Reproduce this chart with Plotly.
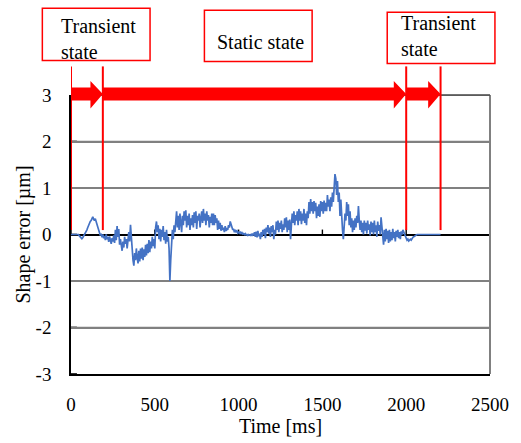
import plotly.graph_objects as go

# ---------------- data ----------------
STEP_MS = 5
SHAPE_ERROR_UM = [
    # 0-95 ms
    0, 0, 0, 0, 0, 0, 0, 0, 0, 0, -0.03, -0.06, -0.09, -0.09, -0.07, -0.04, -0.01, 0.02, 0.05, 0.10,
    # 100-195
    0.15, 0.20, 0.22, 0.28, 0.30, 0.36, 0.38, 0.33, 0.30, 0.34, 0.28, 0.18, 0.15, 0.06, 0.04, -0.02, 0.02, -0.06, 0.00, -0.08,
    # 200-295
    -0.03, -0.12, 0.00, -0.10, -0.05, -0.16, -0.04, -0.12, -0.20, -0.08, -0.15, -0.02, -0.18, 0.10, -0.12, 0.18, -0.05, 0.12, -0.22, -0.10,
    # 300-395
    -0.25, -0.35, -0.15, -0.28, -0.05, -0.20, -0.10, -0.30, -0.12, 0.05, -0.15, 0.21, -0.05, -0.35, -0.55, -0.67, -0.40, -0.55, -0.30, -0.50,
    # 400-495
    -0.62, -0.35, -0.58, -0.30, -0.52, -0.28, -0.55, -0.32, -0.48, -0.22, -0.45, -0.20, -0.40, -0.12, -0.38, -0.15, -0.30, -0.05, -0.25, -0.10,
    # 500-595
    -0.30, 0.15, 0.28, 0.05, 0.20, -0.10, 0.12, -0.15, 0.10, -0.05, 0.18, -0.12, 0.05, -0.20, 0.10, -0.15, -0.05, -0.30, -1.00, -0.55,
    # 600-695
    -0.20, 0.10, -0.10, 0.20, 0.05, 0.35, 0.50, 0.15, 0.40, 0.10, 0.45, 0.25, 0.05, 0.40, 0.20, 0.50, 0.30, 0.52, 0.15, 0.40,
    # 700-795
    0.20, 0.45, 0.10, 0.35, 0.20, 0.42, 0.15, 0.48, 0.25, 0.50, 0.12, 0.40, 0.30, 0.45, 0.15, 0.35, 0.50, 0.25, 0.55, 0.30,
    # 800-895
    0.45, 0.20, 0.50, 0.30, 0.42, 0.15, 0.38, 0.25, 0.45, 0.20, 0.45, 0.20, 0.42, 0.25, 0.35, 0.10, 0.30, 0.12, 0.25, 0.08,
    # 900-995
    0.20, 0.10, 0.15, 0.05, 0.18, 0.08, 0.12, 0.10, 0.20, 0.15, 0.28, 0.22, 0.15, 0.10, 0.12, 0.05, 0.10, 0.06, 0.08, 0.03,
    # 1000-1095
    0.05, 0.03, 0.06, 0.02, 0.04, 0.01, 0.02, 0.00, 0.02, -0.01, 0.00, -0.02, 0.00, -0.01, -0.02, 0.00, -0.03, 0.02, -0.02, 0.05,
    # 1100-1195
    -0.05, 0.06, -0.06, 0.08, -0.04, 0.02, -0.10, 0.05, -0.05, 0.10, 0.00, 0.12, -0.08, 0.15, 0.05, 0.20, 0.02, 0.15, -0.05, 0.18,
    # 1200-1295
    0.05, 0.20, -0.10, 0.10, 0.00, 0.28, 0.10, 0.30, 0.05, 0.25, 0.12, 0.30, 0.05, 0.22, 0.10, 0.35, 0.15, 0.37, 0.05, 0.30,
    # 1300-1395
    0.10, 0.32, -0.10, 0.20, 0.45, 0.25, 0.50, 0.20, 0.42, 0.30, 0.50, 0.20, 0.55, 0.30, 0.50, 0.22, 0.45, 0.30, 0.55, 0.25,
    # 1400-1495
    0.45, 0.20, 0.50, 0.35, 0.70, 0.45, 0.76, 0.50, 0.70, 0.45, 0.72, 0.50, 0.68, 0.35, 0.60, 0.40, 0.65, 0.38, 0.72, 0.50,
    # 1500-1595
    0.70, 0.45, 0.73, 0.50, 0.68, 0.50, 0.85, 0.60, 0.75, 0.50, 0.80, 0.60, 0.90, 0.70, 1.10, 1.30, 1.20, 0.85, 1.15, 0.70,
    # 1600-1695
    0.90, 0.40, 0.75, 0.30, 0.10, -0.10, 0.20, 0.45, 0.30, 0.70, 0.40, 0.65, 0.20, 0.50, 0.15, 0.35, 0.05, 0.30, 0.10, 0.35,
    # 1700-1795
    0.15, 0.40, 0.25, 0.61, 0.30, 0.10, 0.30, 0.05, 0.25, 0.00, 0.30, 0.08, 0.25, 0.02, 0.30, 0.10, 0.22, -0.02, 0.28, 0.05,
    # 1800-1895
    0.25, 0.00, 0.30, 0.05, 0.20, -0.05, 0.28, 0.08, 0.20, 0.00, 0.37, 0.10, -0.10, -0.22, 0.10, -0.15, 0.12, -0.10, 0.08, -0.18,
    # 1900-1995
    0.10, -0.15, 0.05, -0.12, 0.12, -0.08, 0.05, -0.15, 0.08, -0.05, 0.10, -0.08, 0.05, -0.10, 0.07, 0.00, 0.10, 0.05, 0.00, -0.05,
    # 2000-2095
    -0.08, -0.12, -0.10, -0.14, -0.12, -0.10, -0.12, -0.08, -0.06, -0.05, -0.03, -0.02, -0.01, 0.00, 0.00, 0.00, 0.00, 0.00, 0.00, 0.00,
    # 2100-2195
    0, 0, 0, 0, 0, 0, 0, 0, 0, 0, 0, 0, 0, 0, 0, 0, 0, 0, 0, 0,
    # 2200-2205
    0, 0,
]
TIME_MS = [i * STEP_MS for i in range(len(SHAPE_ERROR_UM))]

PHASE_BOUNDS_MS = [0, 190, 2000, 2205]
PHASE_LABELS = ["Transient<br>state", "Static state", "Transient<br>state"]

XTICK_VALS = [0, 500, 1000, 1500, 2000, 2500]
XTICK_TEXT = ["0", "500", "1000", "1500", "2000", "2500"]
YTICK_VALS = [-3, -2, -1, 0, 1, 2, 3]
YTICK_TEXT = ["-3", "-2", "-1", "0", "1", "2", "3"]

X_TITLE = "Time [ms]"
Y_TITLE = "Shape error [µm]"

# ---------------- figure ----------------
FONT = "Liberation Serif"
RED = "#FF0000"
BLUE = "#4472C4"
GRID = "#808080"
CLEAR = "rgba(0,0,0,0)"

fig = go.Figure()
fig.add_trace(go.Scatter(
    x=TIME_MS, y=SHAPE_ERROR_UM, mode="lines",
    line=dict(color=BLUE, width=1.7), showlegend=False, hoverinfo="skip",
))

# plot-area geometry (pixels)
L, R, T, B = 71, 26, 95, 65
W, H = 521, 443
PW = W - L - R
PH = H - T - B


def py(p):  # pixel y -> paper y
    return (H - B - p) / PH


def px(p):  # pixel x -> paper x
    return (p - L) / PW


shapes = []
# horizontal gridlines and inside ticks at the y tick values
for v in YTICK_VALS:
    if v not in (0, -3):
        shapes.append(dict(type="line", xref="paper", yref="y", x0=0, x1=1, y0=v, y1=v,
                           line=dict(color=GRID, width=1.6), layer="below"))
    shapes.append(dict(type="line", xref="paper", yref="y", x0=0, x1=6 / PW, y0=v, y1=v,
                       line=dict(color="black", width=1.6), layer="below"))
# frame: grey right border, dark top border
shapes.append(dict(type="line", xref="paper", yref="paper", x0=1, x1=1, y0=0, y1=1,
                   line=dict(color=GRID, width=2)))
shapes.append(dict(type="line", xref="paper", yref="paper", x0=0, x1=1, y0=1, y1=1,
                   line=dict(color="#444444", width=1.6)))
# tick marks on the y=0 axis crossing
for v in XTICK_VALS:
    shapes.append(dict(type="line", xref="x", yref="y", x0=v, x1=v, y0=0, y1=5 / 47.2,
                       line=dict(color="black", width=1.4), layer="below"))
# red vertical phase lines
for b in PHASE_BOUNDS_MS:
    shapes.append(dict(type="line", xref="x", yref="paper", x0=b, x1=b,
                       y0=py(232), y1=py(66), line=dict(color=RED, width=2)))
# red arrows
HEAD_MS = 74
s_top, s_bot = py(87.3), py(100.7)
h_top, h_bot, h_mid = py(80.7), py(108.7), py(94)
for a, b in zip(PHASE_BOUNDS_MS[:-1], PHASE_BOUNDS_MS[1:]):
    hs = b - HEAD_MS
    path = (f"M {a},{s_bot} L {hs},{s_bot} L {hs},{h_bot} L {b},{h_mid} "
            f"L {hs},{h_top} L {hs},{s_top} L {a},{s_top} Z")
    shapes.append(dict(type="path", xref="x", yref="paper", path=path,
                       fillcolor=RED, line=dict(width=0)))
# label boxes
boxes = [(42, 151, 7, 60), (206, 315, 9, 61), (391, 500, 11, 63)]
for (x0, x1, y0, y1) in boxes:
    shapes.append(dict(type="rect", xref="paper", yref="paper",
                       x0=px(x0), x1=px(x1), y0=py(y1), y1=py(y0),
                       line=dict(color=RED, width=1.5), fillcolor=CLEAR))

annotations = [
    dict(text=PHASE_LABELS[0], xref="paper", yref="paper", x=px(59), y=py(38.5),
         xanchor="left", yanchor="middle", align="left", showarrow=False,
         font=dict(family=FONT, size=20, color="black")),
    dict(text=PHASE_LABELS[1], xref="paper", yref="paper", x=px(262.5), y=py(41),
         xanchor="center", yanchor="middle", align="center", showarrow=False,
         font=dict(family=FONT, size=20, color="black")),
    dict(text=PHASE_LABELS[2], xref="paper", yref="paper", x=px(403), y=py(35.5),
         xanchor="left", yanchor="middle", align="left", showarrow=False,
         font=dict(family=FONT, size=20, color="black")),
]

fig.update_layout(
    width=W, height=H,
    margin=dict(l=L, r=R, t=T, b=B),
    paper_bgcolor="white", plot_bgcolor=CLEAR,
    font=dict(family=FONT, size=19, color="black"),
    showlegend=False,
    shapes=shapes,
    annotations=annotations,
    xaxis=dict(
        range=[0, 2500], tickvals=XTICK_VALS, ticktext=XTICK_TEXT,
        ticks="outside", ticklen=12, tickcolor=CLEAR,
        showgrid=False, zeroline=False,
        showline=True, linecolor="black", linewidth=1.5,
        title=dict(text=X_TITLE, font=dict(family=FONT, size=20), standoff=2),
        tickfont=dict(family=FONT, size=19),
    ),
    yaxis=dict(
        range=[-3, 3], tickvals=YTICK_VALS, ticktext=YTICK_TEXT,
        ticks="outside", ticklen=14, tickcolor=CLEAR,
        showgrid=True, gridcolor=GRID, gridwidth=1.5,
        zeroline=True, zerolinecolor="black", zerolinewidth=1.6,
        showline=True, linecolor="black", linewidth=1.5,
        title=dict(text=Y_TITLE, font=dict(family=FONT, size=20), standoff=0),
        tickfont=dict(family=FONT, size=19),
    ),
)

fig.write_html("out.html")
